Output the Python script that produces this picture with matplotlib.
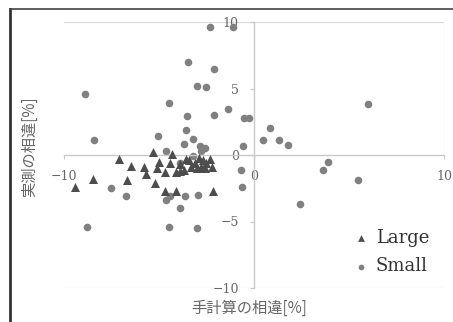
import matplotlib
matplotlib.use("Agg")
import matplotlib.pyplot as plt
from matplotlib.lines import Line2D

# Large buildings: (hand calc diff, measured diff) in %
large_x = [-9.4, -8.5, -7.1, -6.5, -6.7, -5.8, -5.7, -5.2, -5.3, -5.0, -5.1, -4.7,
           -4.7, -4.1, -4.3, -4.1, -3.7, -3.4, -3.1, -2.8, -2.5, -2.3, -2.2, -2.15,
           -3.9, -3.6, -3.3, -3.0, -2.7, -2.6, -4.4, -3.9, -2.9]
large_y = [-2.4, -1.8, -0.3, -0.8, -1.9, -0.9, -1.4, -2.1, 0.25, -0.5, -1.0, -1.3,
           -2.7, -2.7, 0.1, -1.25, -1.1, -0.4, -0.6, -0.9, -0.6, -0.3, -0.9, -2.7,
           -0.7, -0.3, -0.9, -1.0, -0.4, -1.0, -0.6, -1.2, -0.2]

small_x = [-2.3, -1.1, -3.5, -2.1, -3.0, -2.5, -8.9, -1.35, -4.5, -3.55, -2.1, -8.4,
           -5.05, -3.6, -3.2, -3.7, -2.85, -2.6, -4.65, -0.55, -0.25, 0.85, 0.5, 1.3,
           1.8, -0.6, 6.0, 3.65, 3.9, 5.5, 2.4, -0.7, -0.65, -7.55, -6.75, -8.8,
           -4.5, -3.0, -3.9, -3.65, -2.95, -4.65, -4.4, -3.9, -3.2, -2.8]
small_y = [9.65, 9.65, 7.0, 6.5, 5.2, 5.1, 4.55, 3.45, 3.9, 2.95, 3.0, 1.15,
           1.45, 1.9, 1.2, 0.85, 0.7, 0.55, 0.3, 2.75, 2.75, 2.05, 1.1, 1.1,
           0.75, 0.65, 3.8, -1.1, -0.55, -1.9, -3.7, -1.1, -2.4, -2.45, -3.1, -5.45,
           -5.45, -5.5, -4.0, -3.05, -3.0, -3.4, -3.1, -0.6, -0.1, 0.3]

x_ticks = [-10, 0, 10]
y_ticks = [-10, -5, 0, 5, 10]

fig = plt.figure(figsize=(4.53, 3.22), dpi=100)
ax = fig.add_axes([64 / 453, 1 - 288 / 322, 380 / 453, 266 / 322])

grid_c = '#d9d9d9'
ax.axhline(10, color=grid_c, lw=0.9, zorder=0)
ax.axhline(-10, color=grid_c, lw=0.9, zorder=0)
ax.axvline(10, ymin=0.5, ymax=1, color=grid_c, lw=0.9, zorder=0)

ax.scatter(large_x, large_y, marker='^', s=42, color='#4d4d4d', linewidths=0,
           label='Large', zorder=3)
ax.scatter(small_x, small_y, marker='o', s=30, color='#808080', linewidths=0,
           label='Small', zorder=2)

ax.set_xlim(-10, 10)
ax.set_ylim(-10, 10)
ax.spines['left'].set_position('zero')
ax.spines['bottom'].set_position('zero')
ax.spines['right'].set_visible(False)
ax.spines['top'].set_visible(False)
for s in ['left', 'bottom']:
    ax.spines[s].set_color('#c8c8c8')
    ax.spines[s].set_linewidth(1.0)
ax.set_xticks(x_ticks)
ax.set_yticks(y_ticks)
ax.tick_params(colors='#c8c8c8', labelcolor='#666666', length=3, labelsize=9)
for lab in ax.get_xticklabels() + ax.get_yticklabels():
    lab.set_family('DejaVu Serif')
ax.tick_params(axis='x', pad=8)
ax.tick_params(axis='y', pad=8)

leg = ax.legend(loc='center left', bbox_to_anchor=(345 / 453, 1 - 252 / 322),
                bbox_transform=fig.transFigure, frameon=False,
                prop={'family': 'DejaVu Serif', 'size': 13}, labelcolor='#333333',
                handlelength=0.8, handletextpad=0.4, labelspacing=0.6,
                borderpad=0, markerscale=0.75)

fig.text(249 / 453, 1 - 308 / 322, '手計算の相違[%]', ha='center', va='center',
         fontsize=11, color='#666666', family=['Noto Sans CJK JP', 'DejaVu Sans'])
fig.text(30 / 453, 1 - 147 / 322, '実測の相違[%]', ha='center', va='center',
         rotation=90, fontsize=11, color='#666666',
         family=['Noto Sans CJK JP', 'DejaVu Sans'])

# outer frame (left and top edges visible)
fig.add_artist(Line2D([10 / 453, 10 / 453], [0, 1 - 9 / 322], color='#333333',
                      lw=2.0, transform=fig.transFigure))
fig.add_artist(Line2D([10 / 453, 1], [1 - 9 / 322, 1 - 9 / 322], color='#444444',
                      lw=1.2, transform=fig.transFigure))

fig.savefig('out.png', dpi=100)
